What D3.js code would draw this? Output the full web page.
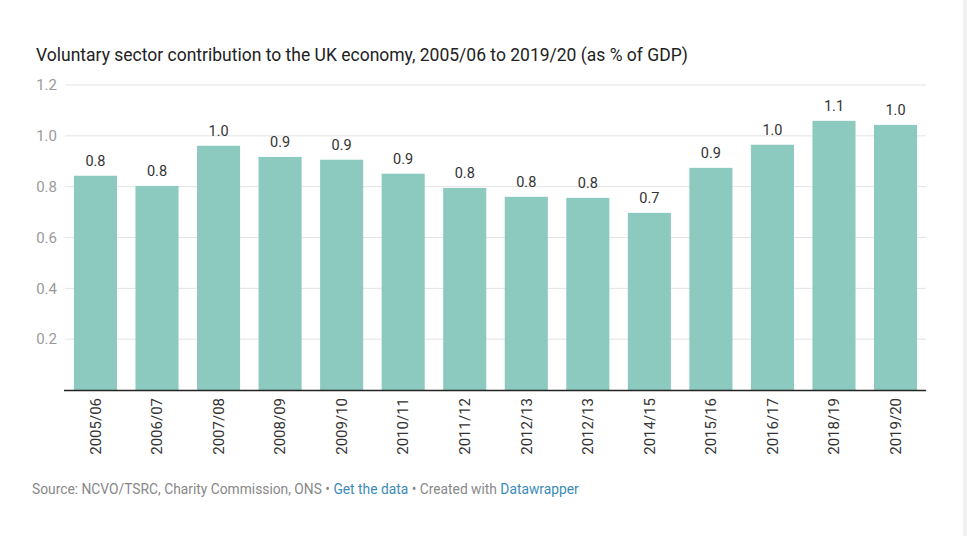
<!DOCTYPE html>
<html><head><meta charset="utf-8">
<script src="https://cdn.jsdelivr.net/npm/d3@7"></script>
<style>
body{margin:0;background:#fff;font-family:Roboto,"Noto Sans",sans-serif;}
</style></head><body>
<svg id="c" width="967" height="536"></svg>
<script>
const categories = ["2005/06","2006/07","2007/08","2008/09","2009/10","2010/11","2011/12","2012/13","2012/13","2014/15","2015/16","2016/17","2018/19","2019/20"];
const values = [0.843,0.803,0.961,0.917,0.906,0.851,0.795,0.760,0.756,0.697,0.874,0.965,1.059,1.043];
const yTicks = [0.2,0.4,0.6,0.8,1.0,1.2];
const title = "Voluntary sector contribution to the UK economy, 2005/06 to 2019/20 (as % of GDP)";

(function(){
const svg = d3.select("#c");
svg.append("rect").attr("x",963).attr("y",0).attr("width",4).attr("height",536).attr("fill","#f1f1f1");

const pL=65, pR=926, pT=85, pB=390;
const x = d3.scaleBand().domain(d3.range(categories.length)).range([pL,pR]).paddingInner(0.3).paddingOuter(0.145);
const y = d3.scaleLinear().domain([0,1.2]).range([pB,pT]);

svg.append("text").attr("x",36).attr("y",61).attr("font-size",17.5).attr("fill","#222").text(title);

const g = svg.append("g");
g.selectAll("line.grid").data(yTicks).enter().append("line")
 .attr("x1",pL).attr("x2",pR).attr("y1",d=>y(d)).attr("y2",d=>y(d))
 .attr("stroke","#e3e3e3").attr("stroke-width",1);
g.selectAll("text.yt").data(yTicks).enter().append("text")
 .attr("x",57).attr("y",d=>y(d)).attr("dy","0.35em").attr("text-anchor","end")
 .attr("font-size",15).attr("fill","#9a9a9a").text(d=>d.toFixed(1));

g.selectAll("rect.bar").data(values).enter().append("rect")
 .attr("x",(d,i)=>x(i)).attr("width",x.bandwidth())
 .attr("y",d=>y(d)).attr("height",d=>pB-y(d)).attr("fill","#8ccac0");

g.selectAll("text.val").data(values).enter().append("text")
 .attr("x",(d,i)=>x(i)+x.bandwidth()/2).attr("y",d=>y(d)-10)
 .attr("text-anchor","middle").attr("font-size",14.5).attr("fill","#333")
 .text(d=>d.toFixed(1));

g.append("line").attr("x1",pL-1).attr("x2",pR).attr("y1",pB+0.5).attr("y2",pB+0.5)
 .attr("stroke","#222").attr("stroke-width",1.3);

g.selectAll("text.xl").data(categories).enter().append("text")
 .attr("transform",(d,i)=>`translate(${x(i)+x.bandwidth()/2},398) rotate(-90)`)
 .attr("text-anchor","end").attr("dy","0.35em").attr("font-size",15).attr("fill","#333")
 .text(d=>d);

const f = svg.append("text").attr("x",32).attr("y",494).attr("font-size",13.8).attr("fill","#888");
f.append("tspan").text("Source: NCVO/TSRC, Charity Commission, ONS • ");
f.append("tspan").attr("fill","#3b8bb8").text("Get the data");
f.append("tspan").text(" • Created with ");
f.append("tspan").attr("fill","#3b8bb8").text("Datawrapper");
})();
</script></body></html>
